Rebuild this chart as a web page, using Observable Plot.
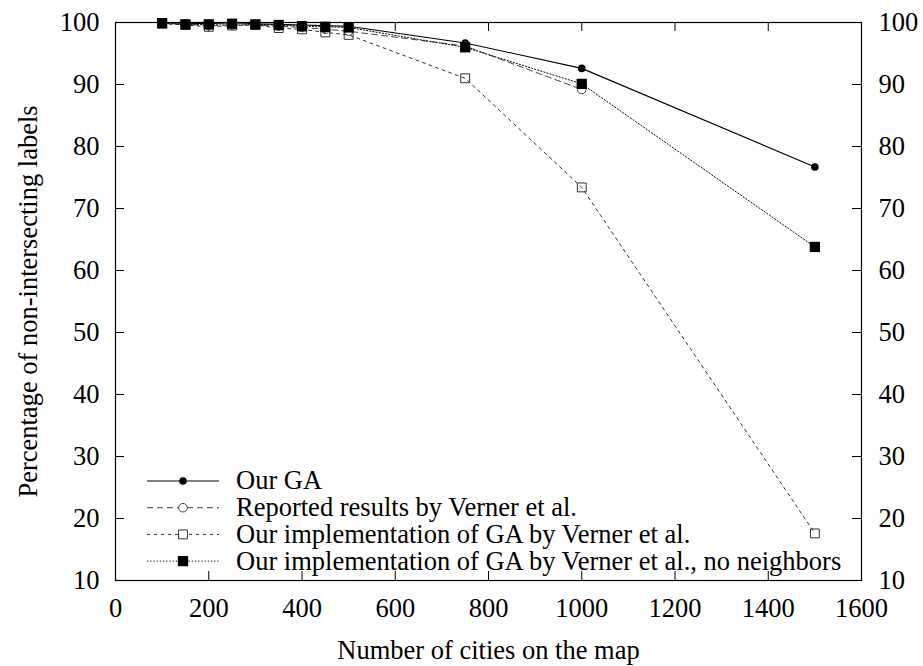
<!DOCTYPE html>
<html>
<head>
<meta charset="utf-8">
<script src="https://cdn.jsdelivr.net/npm/d3@7"></script>
<script src="https://cdn.jsdelivr.net/npm/@observablehq/plot@0.6"></script>
<style>
  body { margin: 0; background: #fff; font-family: "Liberation Serif", serif; }
</style>
</head>
<body>
<div id="chart"></div>
<script>
const cities = [100, 150, 200, 250, 300, 350, 400, 450, 500, 750, 1000, 1500];
const ourGA       = [100.0, 99.9, 99.8, 100.0, 99.8, 99.7, 99.6, 99.5, 99.4, 96.7, 92.6, 76.7];
const reported    = [99.9, 99.7, 99.5, 99.6, 99.6, 99.4, 99.2, 98.9, 98.6, 96.2, 89.2];
const ourImpl     = [99.8, 99.6, 99.3, 99.5, 99.6, 99.1, 98.9, 98.4, 98.0, 91.0, 73.4, 17.6];
const noNeighbors = [99.9, 99.7, 99.7, 99.8, 99.7, 99.6, 99.4, 99.3, 99.2, 96.0, 90.1, 63.8];
const seriesNames = [
  "Our GA",
  "Reported results by Verner et al.",
  "Our implementation of GA by Verner et al.",
  "Our implementation of GA by Verner et al., no neighbors"
];
const xTicks = [0, 200, 400, 600, 800, 1000, 1200, 1400, 1600];
const yTicks = [10, 20, 30, 40, 50, 60, 70, 80, 90, 100];
const xLabel = "Number of cities on the map";
const yLabel = "Percentage of non-intersecting labels";

const allSeries = [ourGA, reported, ourImpl, noNeighbors];
const styles = [
  {stroke: "#000", dash: null, symbol: "circle", fill: "#000", r: 3.8, sw: 1.1},
  {stroke: "#444", dash: "6,4", symbol: "circle", fill: "none", r: 4.3, sw: 1},
  {stroke: "#333", dash: "3,4", symbol: "square", fill: "none", r: 5, sw: 1},
  {stroke: "#000", dash: "1.2,2", symbol: "square", fill: "#000", r: 5.8, sw: 1}
];
const rows = allSeries.map((vals, i) => vals.map((v, j) => ({x: cities[j], y: v, s: i})));

const W = 923, H = 666;
const mL = 115, mR = 62, mT = 22, mB = 86;
const fw = W - mL - mR, fh = H - mT - mB;
const font = "Liberation Serif";
const fs = 26.5;
const tickLen = 9;

const marks = [];
rows.forEach((data, i) => {
  const st = styles[i];
  marks.push(Plot.line(data, {x: "x", y: "y", stroke: st.stroke, strokeWidth: st.sw, strokeDasharray: st.dash}));
});
rows.forEach((data, i) => {
  const st = styles[i];
  marks.push(Plot.dot(data, {x: "x", y: "y", symbol: st.symbol, r: st.r,
    fill: st.fill, stroke: st.fill === "none" ? st.stroke : "none", strokeWidth: 1}));
});

const plot = Plot.plot({
  width: W, height: H,
  marginLeft: mL, marginRight: mR, marginTop: mT, marginBottom: mB,
  style: {fontFamily: font, fontSize: fs + "px", color: "#000", background: "#fff"},
  x: {domain: [0, 1600]},
  y: {domain: [10, 100]},
  marks: [
    Plot.tickX(xTicks, {x: d => d, insetTop: fh - tickLen, stroke: "#000"}),
    Plot.tickX(xTicks, {x: d => d, insetBottom: fh - tickLen, stroke: "#000"}),
    Plot.tickY(yTicks, {y: d => d, insetRight: fw - tickLen, stroke: "#000"}),
    Plot.tickY(yTicks, {y: d => d, insetLeft: fw - tickLen, stroke: "#000"}),
    ...marks,
    Plot.frame({stroke: "#000", strokeWidth: 1.2}),
    Plot.axisX(xTicks, {anchor: "bottom", tickSize: 0, tickPadding: 18, label: null, fontSize: fs, tickFormat: d => String(d)}),
    Plot.axisY(yTicks, {anchor: "left", tickSize: 0, tickPadding: 16, label: null, fontSize: fs, tickFormat: d => String(d)}),
    Plot.axisY(yTicks, {anchor: "right", tickSize: 0, tickPadding: 17, label: null, fontSize: fs, tickFormat: d => String(d)}),
    Plot.text([xLabel], {text: d => d, frameAnchor: "bottom", dy: 70, lineAnchor: "middle", fontSize: fs}),
    Plot.text([yLabel], {text: d => d, frameAnchor: "left", textAnchor: "middle", dx: -87, rotate: -90, lineAnchor: "middle", fontSize: fs})
  ]
});

// Legend inside the frame (gnuplot style)
const svg = d3.select(plot);
svg.attr("font-family", font);
const lg = svg.append("g").attr("font-size", fs).attr("text-anchor", "start");
const legY0 = 481, legDy = 26.7, lx1 = 147, lx2 = 219, lmx = 183, ltx = 236;
seriesNames.forEach((name, i) => {
  const st = styles[i];
  const y = legY0 + i * legDy;
  lg.append("line").attr("x1", lx1).attr("x2", lx2).attr("y1", y).attr("y2", y)
    .attr("stroke", st.stroke).attr("stroke-width", st.sw)
    .attr("stroke-dasharray", st.dash);
  const sym = d3.symbol(st.symbol === "circle" ? d3.symbolCircle : d3.symbolSquare, Math.PI * st.r * st.r);
  lg.append("path").attr("d", sym()).attr("transform", `translate(${lmx},${y})`)
    .attr("fill", st.fill === "none" ? "#fff" : st.fill)
    .attr("stroke", st.fill === "none" ? st.stroke : "none");
  lg.append("text").attr("x", ltx).attr("y", y).attr("dy", "0.32em").text(name);
});
svg.selectAll("text").style("font-family", font);

document.getElementById("chart").appendChild(plot);
</script>
</body>
</html>
